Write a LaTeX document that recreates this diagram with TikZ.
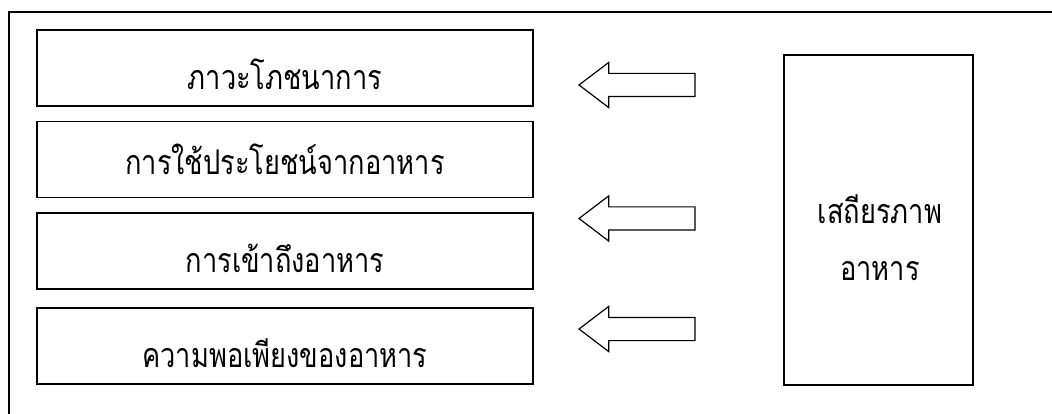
\documentclass[tikz,border=0pt]{standalone}
\usepackage{fontspec}
\newfontfamily\thaifont[Script=Thai, FakeStretch=0.8]{Loma}
\usetikzlibrary{shapes.arrows}
\tikzset{
  frame/.style={line width=1.5pt},
  lbox/.style={draw, line width=1.5pt, minimum width=496pt, minimum height=76pt, inner sep=0pt},
  rbox/.style={draw, line width=1.5pt, minimum width=189pt, minimum height=330pt, inner sep=0pt},
  txt/.style={font=\thaifont\fontsize{34}{40}\selectfont, inner sep=0pt, anchor=base},
  blockarrow/.style={single arrow, draw, line width=1.2pt, shape border rotate=180,
    minimum height=116pt, inner xsep=0pt, inner ysep=11pt, single arrow head extend=11pt,
    single arrow tip angle=74.4, anchor=tip},
}
\begin{document}
\begin{tikzpicture}[x=1pt,y=-1pt]
\useasboundingbox (0,0) rectangle (1052,414);
\clip (0,0) rectangle (1052,414);
\draw[frame] (1060,12) -- (9,12) -- (9,420);
\node[lbox] (b1) at (285,68) {};
\node[lbox] (b2) at (285,159.5) {};
\node[lbox] (b3) at (285,251) {};
\node[lbox] (b4) at (285,346) {};
\node[rbox] (r) at (878.5,220) {};
\node[txt] (t1) at ([yshift=-22pt]b1.center) {ภาวะโภชนาการ};
\node[txt] (t2) at ([yshift=-15.5pt]b2.center) {การใช้ประโยชน์จากอาหาร};
\node[txt] (t3) at ([yshift=-21pt]b3.center) {การเข้าถึงอาหาร};
\node[txt] (t4) at ([yshift=-21pt]b4.center) {ความพอเพียงของอาหาร};
\node[txt] (r1) at (880,223) {เสถียรภาพ};
\node[txt] (r2) at (880,280) {อาหาร};
\node[blockarrow] (a1) at (578,85) {};
\node[blockarrow] (a2) at (578,218.5) {};
\node[blockarrow] (a3) at (578,329) {};
\end{tikzpicture}
\end{document}
